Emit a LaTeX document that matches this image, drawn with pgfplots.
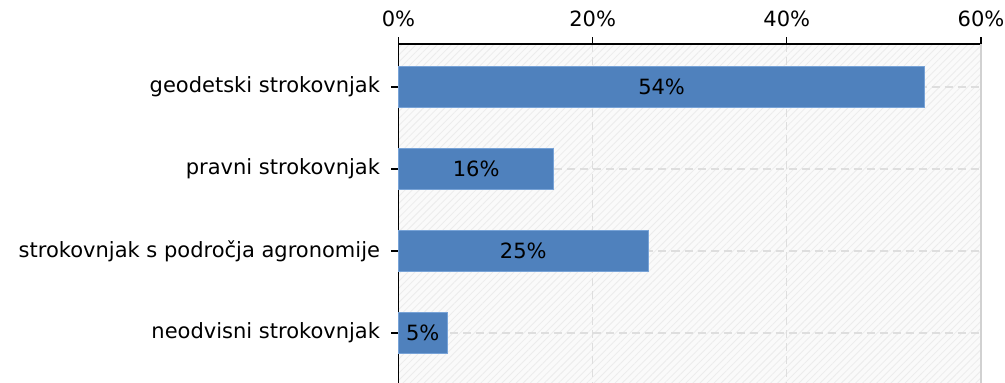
\documentclass[border=0pt]{standalone}
\usepackage{pgfplots}
\pgfplotsset{compat=1.18}
\usepackage{pgfplotstable}
\usepackage{fontspec}
\setmainfont{DejaVu Sans}
\usetikzlibrary{patterns.meta}
\definecolor{barblue}{RGB}{79,129,189}
\definecolor{bardraw}{RGB}{120,163,215}
\definecolor{gridc}{RGB}{222,222,222}
\definecolor{bgc}{RGB}{250,250,250}
\definecolor{hatchc}{RGB}{236,236,236}
\pgfplotstableread{
y v lab
0 54.2 54
1 16.0 16
2 25.7 25
3 5.0 5
}\data
\begin{document}
\begin{tikzpicture}[font=\fontsize{21pt}{25pt}\selectfont]
\begin{axis}[
  at={(398.5pt,0pt)}, anchor=south west,
  scale only axis, width=582.5pt, height=339pt,
  xmin=0, xmax=60, ymin=-0.524, ymax=3.61, y dir=reverse,
  axis x line*=top, axis y line*=left,
  xtick={0,20,40,60},
  xticklabel={\pgfmathprintnumber{\tick}\%},
  xticklabel style={yshift=7pt},
  ytick={0,1,2,3},
  yticklabels={geodetski strokovnjak, pravni strokovnjak, strokovnjak s področja agronomije, neodvisni strokovnjak},
  yticklabel style={xshift=-8pt},
  tick align=outside, major tick length=7pt,
  tick style={black, line width=1.2pt},
  axis line style={black, line width=1.3pt},
  xmajorgrids, ymajorgrids,
  major grid style={gridc, line width=1.2pt, dash pattern=on 8pt off 5pt},
  extra x ticks={60}, extra x tick labels={},
  extra x tick style={major grid style={solid, black!18, line width=1.8pt}},
  axis background/.style={preaction={fill=bgc}, pattern={Lines[angle=45,distance=5pt,line width=0.8pt]}, pattern color=hatchc},
  /pgf/number format/assume math mode=true,
  clip=false,
]
\addplot[xbar, bar width=41pt, bar shift=0pt, fill=barblue, draw=bardraw, line width=0.8pt] table[x=v, y=y] {\data};
\addplot[draw=none, mark=none, point meta=\thisrow{lab},
  nodes near coords={\pgfmathprintnumber{\pgfplotspointmeta}\%},
  every node near coord/.append style={anchor=center, black}]
  table[x expr=\thisrow{v}/2, y=y] {\data};
\end{axis}
\pgfresetboundingbox
\path[use as bounding box] (0,0) rectangle (1005pt,383pt);
\end{tikzpicture}
\end{document}
